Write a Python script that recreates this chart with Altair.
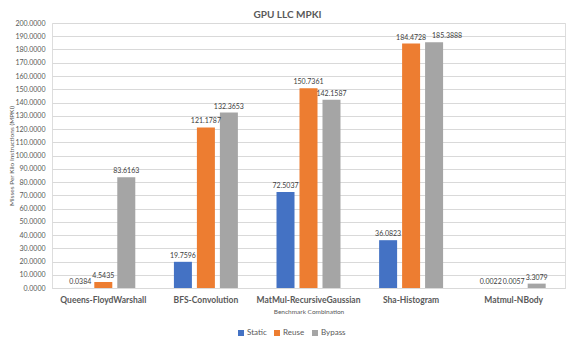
import altair as alt
import pandas as pd

categories = ["Queens-FloydWarshall", "BFS-Convolution", "MatMul-RecursiveGaussian",
              "Sha-Histogram", "Matmul-NBody"]
series = ["Static", "Reuse", "Bypass"]
static = [0.0384, 19.7596, 72.5037, 36.0823, 0.0022]
reuse = [4.5435, 121.1787, 150.7361, 184.4728, 0.0057]
bypass = [83.6163, 132.3653, 142.1587, 185.3888, 3.3079]
y_ticks = list(range(0, 201, 10))
colors = ["#4472C4", "#ED7D31", "#A5A5A5"]

rows = []
for name, vals in zip(series, [static, reuse, bypass]):
    for c, v in zip(categories, vals):
        rows.append({"Benchmark": c, "Series": name, "Value": v})
df = pd.DataFrame(rows)

FONT = "Lato"
TXT = "#595959"

x = alt.X("Benchmark:N", sort=categories,
          scale=alt.Scale(paddingInner=0, paddingOuter=0),
          axis=alt.Axis(title="Benchmark Combination", labelAngle=0,
                        labelFont=FONT, labelFontWeight="bold", labelFontSize=8.5,
                        labelColor=TXT, ticks=False, domain=True,
                        domainColor="#D9D9D9", labelPadding=7,
                        titleFont=FONT, titleFontSize=6.5, titleColor=TXT,
                        titleFontWeight="normal", titlePadding=5))
xo = alt.XOffset("Series:N", sort=series,
                 scale=alt.Scale(paddingInner=0.217, paddingOuter=0.84))
y = alt.Y("Value:Q", scale=alt.Scale(domain=[0, 200], nice=False),
          axis=alt.Axis(values=y_ticks, format=".4f",
                        title="Misses Per Kilo Instructions (MPKI)",
                        labelFont=FONT, labelFontSize=7, labelColor=TXT,
                        gridColor="#D9D9D9", domain=False, ticks=False,
                        labelPadding=7, titleFont=FONT, titleFontSize=6.5,
                        titleColor=TXT, titleFontWeight="normal",
                        titleX=-41, titleBaseline="middle"))
color = alt.Color("Series:N", sort=series,
                  scale=alt.Scale(domain=series, range=colors),
                  legend=alt.Legend(title=None, orient="none", direction="horizontal",
                                    legendX=185, legendY=306, symbolType="square",
                                    symbolSize=36, symbolStrokeWidth=0,
                                    labelFont=FONT, labelFontSize=8, labelColor=TXT,
                                    columnPadding=6, labelOffset=2))

# Excel nudges one label sideways to avoid a collision
moved = "datum.Benchmark == 'Sha-Histogram' && datum.Series == 'Bypass'"

base = alt.Chart(df)
bars = base.mark_bar().encode(x=x, xOffset=xo, y=y, color=color)
labels = base.transform_filter("!(" + moved + ")").mark_text(
    baseline="bottom", dy=-3, fontSize=7, font=FONT, color="#404040").encode(
    x=x, xOffset=xo, y=y, text=alt.Text("Value:Q", format=".4f"))
labels_moved = base.transform_filter(moved).mark_text(
    baseline="bottom", dy=-3, dx=13, fontSize=7, font=FONT, color="#404040").encode(
    x=x, xOffset=xo, y=y, text=alt.Text("Value:Q", format=".4f"))

chart = (bars + labels + labels_moved).properties(
    width=513, height=265,
    title=alt.TitleParams("GPU LLC MPKI", font=FONT, fontSize=10, fontWeight="bold",
                          color=TXT, anchor="middle", dx=-21, offset=0, dy=1),
    autosize=alt.AutoSizeParams(type="none"),
    padding={"left": 44, "top": 15, "right": 1, "bottom": 52},
).configure_view(stroke=None).configure(background="white")

chart.save("out.html", embed_options={"renderer": "svg", "actions": False})
